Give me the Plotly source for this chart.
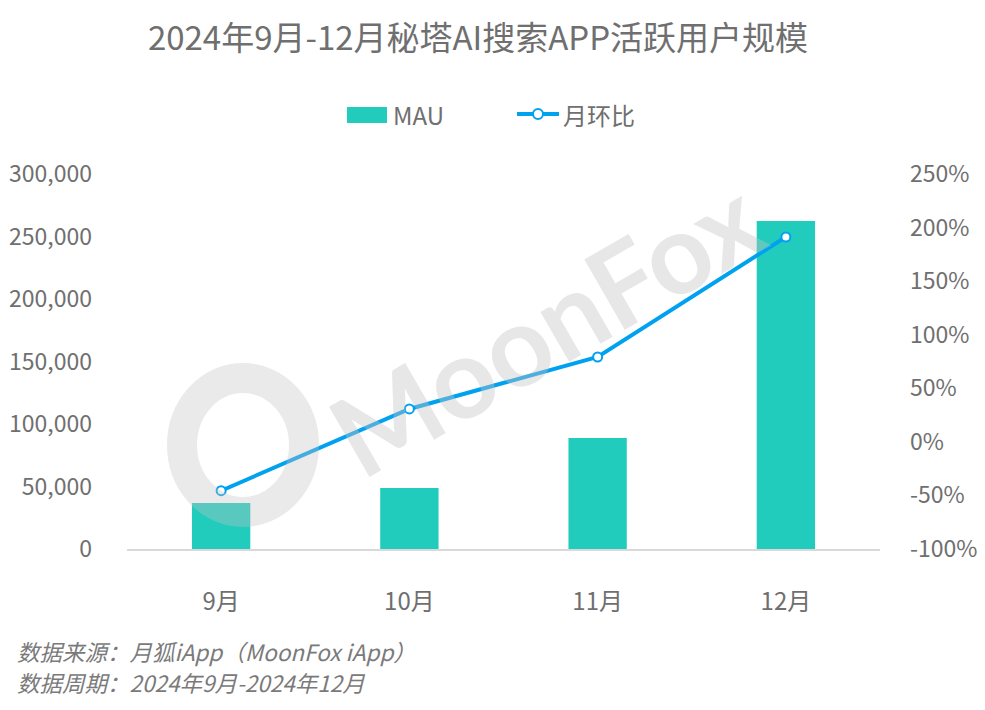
import plotly.graph_objects as go

months = ["9月", "10月", "11月", "12月"]
mau = [36800, 48800, 88800, 262400]
mom = [-45.6, 30.7, 79.2, 191.2]
left_ticks = [0, 50000, 100000, 150000, 200000, 250000, 300000]
left_ticktext = ["0", "50,000", "100,000", "150,000", "200,000", "250,000", "300,000"]
right_ticks = [-100, -50, 0, 50, 100, 150, 200, 250]
right_ticktext = ["-100%", "-50%", "0%", "50%", "100%", "150%", "200%", "250%"]

FONT = "Noto Sans CJK SC"
GREY = "#6f6f6f"
TEAL = "#21CCBD"
BLUE = "#00A2F0"

# page body has an 8px margin; size the figure so it fills the 985x710 window
OFF = 8
W, H = 985 - OFF, 710 - OFF
L, R, T, B = 127 - OFF, 105, 174 - OFF, 161
PW, PH = W - L - R, H - T - B


def px(x):
    return (x - OFF - L) / PW


def py(y):
    return (H + OFF - B - y) / PH


fig = go.Figure()
fig.add_trace(go.Bar(x=months, y=mau, name="MAU", marker=dict(color=TEAL, line=dict(width=0)),
                     yaxis="y"))
fig.add_trace(go.Scatter(x=months, y=mom, name="月环比", yaxis="y2", mode="lines+markers",
                         line=dict(color=BLUE, width=4),
                         marker=dict(symbol="circle", size=9, color="white",
                                     line=dict(color=BLUE, width=2))))

fig.update_layout(
    width=W, height=H,
    margin=dict(l=L, r=R, t=T, b=B, autoexpand=False),
    paper_bgcolor="white", plot_bgcolor="white",
    font=dict(family=FONT, color=GREY, size=23),
    title=dict(text="2024年9月-12月秘塔AI搜索APP活跃用户规模", x=(478 - OFF) / W, xanchor="center",
               y=0.957, yanchor="middle", font=dict(size=33, color=GREY, family=FONT)),
    bargap=0.69,
    showlegend=False,
    xaxis=dict(type="category", showline=True, linecolor="#d9d9d9", linewidth=2,
               ticks="", showgrid=False, ticklabelstandoff=30, automargin=False,
               tickfont=dict(size=24, color=GREY)),
    yaxis=dict(range=[0, 300000], tickvals=left_ticks, ticktext=left_ticktext, showgrid=False,
               zeroline=False, showline=False, ticks="", ticklabelstandoff=34, automargin=False,
               tickfont=dict(size=23, color=GREY)),
    yaxis2=dict(range=[-100, 250], tickvals=right_ticks, ticktext=right_ticktext, overlaying="y",
                side="right", showgrid=False, zeroline=False, showline=False, ticks="",
                ticklabelstandoff=29, automargin=False, tickfont=dict(size=23, color=GREY)),
)

# manual legend
fig.add_shape(type="rect", xref="paper", yref="paper", x0=px(347), x1=px(387),
              y0=py(123), y1=py(107), fillcolor=TEAL, line=dict(width=0))
fig.add_annotation(text="MAU", xref="paper", yref="paper", x=px(391), y=py(114),
                   xanchor="left", yanchor="middle", showarrow=False,
                   font=dict(size=24, color=GREY, family=FONT))
fig.add_shape(type="line", xref="paper", yref="paper", x0=px(517), x1=px(559),
              y0=py(114), y1=py(114), line=dict(color=BLUE, width=4))
fig.add_shape(type="circle", xref="paper", yref="paper", x0=px(533), x1=px(543),
              y0=py(119), y1=py(109), fillcolor="white", line=dict(color=BLUE, width=2))
fig.add_annotation(text="月环比", xref="paper", yref="paper", x=px(561), y=py(114),
                   xanchor="left", yanchor="middle", showarrow=False,
                   font=dict(size=24, color=GREY, family=FONT))

# watermark
fig.add_shape(type="circle", xref="paper", yref="paper", x0=px(182), x1=px(304),
              y0=py(512), y1=py(378), line=dict(color="rgba(195,195,195,0.35)", width=30),
              fillcolor="rgba(0,0,0,0)")
fig.add_annotation(text="<b>MoonFox</b>", xref="paper", yref="paper", x=px(545), y=py(325),
                   showarrow=False, textangle=-30,
                   font=dict(size=112, family="Lato", color="rgba(195,195,195,0.4)"))

# footnotes
fig.add_annotation(text="<i>数据来源：月狐iApp（MoonFox iApp）</i>",
                   xref="paper", yref="paper", x=px(15), y=py(651), xanchor="left", yanchor="middle",
                   showarrow=False, font=dict(size=22.5, family=FONT, color="#7a7a7a"))
fig.add_annotation(text="<i>数据周期：2024年9月-2024年12月</i>",
                   xref="paper", yref="paper", x=px(15), y=py(682), xanchor="left", yanchor="middle",
                   showarrow=False, font=dict(size=22.5, family=FONT, color="#7a7a7a"))

fig.write_html("out.html")
